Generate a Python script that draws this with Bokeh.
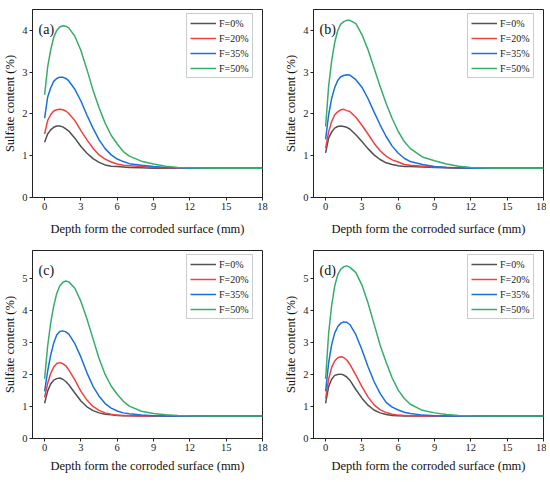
from bokeh.plotting import figure
from bokeh.layouts import column, row
from bokeh.models import Legend, LegendItem, Label, FixedTicker, Range1d
from bokeh.embed import file_html
from bokeh.resources import INLINE

# ---------------- data ----------------
depth = [0, 0.25, 0.5, 0.75, 1, 1.25, 1.5, 1.75, 2, 2.5, 3, 3.5, 4, 4.5, 5,
         5.5, 6, 6.5, 7, 8, 9, 10, 11, 12, 14, 16, 18]

series_labels = ["F=0%", "F=20%", "F=35%", "F=50%"]
x_ticks = [0, 3, 6, 9, 12, 15, 18]

a_f0 = [1.32, 1.52, 1.62, 1.68, 1.71, 1.71, 1.69, 1.64, 1.59, 1.42, 1.22, 1.06, 0.93, 0.84, 0.78,
        0.75, 0.74, 0.73, 0.72, 0.71, 0.70, 0.70, 0.70, 0.70, 0.70, 0.70, 0.70]
a_f20 = [1.52, 1.84, 1.98, 2.07, 2.10, 2.11, 2.10, 2.07, 2.01, 1.84, 1.60, 1.38, 1.18, 1.02, 0.92,
         0.85, 0.80, 0.77, 0.76, 0.74, 0.72, 0.71, 0.70, 0.70, 0.70, 0.70, 0.70]
a_f35 = [1.90, 2.40, 2.62, 2.78, 2.85, 2.88, 2.88, 2.85, 2.79, 2.59, 2.31, 1.97, 1.66, 1.38, 1.17,
         1.02, 0.92, 0.86, 0.81, 0.77, 0.74, 0.72, 0.71, 0.70, 0.70, 0.70, 0.70]
a_f50 = [2.46, 3.12, 3.53, 3.83, 4.00, 4.08, 4.11, 4.10, 4.06, 3.86, 3.52, 3.06, 2.57, 2.15, 1.78,
         1.49, 1.28, 1.10, 0.99, 0.87, 0.80, 0.75, 0.72, 0.71, 0.70, 0.70, 0.70]

b_f0 = [1.07, 1.42, 1.57, 1.66, 1.70, 1.71, 1.70, 1.68, 1.64, 1.50, 1.34, 1.17, 1.02, 0.91, 0.83,
        0.79, 0.76, 0.74, 0.74, 0.73, 0.72, 0.71, 0.70, 0.70, 0.70, 0.70, 0.70]
b_f20 = [1.18, 1.57, 1.82, 1.98, 2.05, 2.10, 2.11, 2.08, 2.06, 1.92, 1.73, 1.52, 1.30, 1.12, 0.99,
         0.90, 0.85, 0.79, 0.77, 0.75, 0.73, 0.72, 0.71, 0.70, 0.70, 0.70, 0.70]
b_f35 = [1.39, 1.98, 2.37, 2.63, 2.80, 2.89, 2.92, 2.94, 2.93, 2.82, 2.64, 2.37, 2.05, 1.74, 1.46,
         1.23, 1.06, 0.94, 0.86, 0.79, 0.74, 0.72, 0.71, 0.70, 0.70, 0.70, 0.70]
b_f50 = [1.70, 2.66, 3.27, 3.71, 3.99, 4.15, 4.21, 4.24, 4.24, 4.16, 3.90, 3.54, 3.10, 2.66, 2.25,
         1.89, 1.58, 1.34, 1.17, 0.97, 0.88, 0.80, 0.75, 0.72, 0.70, 0.70, 0.70]

c_f0 = [1.10, 1.48, 1.70, 1.82, 1.87, 1.89, 1.85, 1.78, 1.68, 1.42, 1.17, 0.99, 0.87, 0.80, 0.76,
        0.74, 0.72, 0.71, 0.71, 0.70, 0.70, 0.70, 0.70, 0.70, 0.70, 0.70, 0.70]
c_f20 = [1.28, 1.72, 2.03, 2.23, 2.34, 2.37, 2.34, 2.27, 2.14, 1.83, 1.47, 1.20, 1.00, 0.88, 0.80,
         0.76, 0.73, 0.72, 0.71, 0.70, 0.70, 0.70, 0.70, 0.70, 0.70, 0.70, 0.70]
c_f35 = [1.47, 2.10, 2.60, 2.98, 3.23, 3.34, 3.36, 3.33, 3.26, 2.96, 2.54, 2.05, 1.63, 1.32, 1.09,
         0.95, 0.86, 0.80, 0.77, 0.73, 0.71, 0.70, 0.70, 0.70, 0.70, 0.70, 0.70]
c_f50 = [1.86, 2.88, 3.60, 4.13, 4.53, 4.76, 4.87, 4.92, 4.89, 4.69, 4.28, 3.73, 3.11, 2.50, 2.00,
         1.64, 1.38, 1.16, 1.01, 0.85, 0.78, 0.74, 0.72, 0.71, 0.70, 0.70, 0.70]

d_f0 = [1.10, 1.62, 1.85, 1.97, 2.00, 2.01, 1.98, 1.92, 1.82, 1.53, 1.26, 1.04, 0.89, 0.80, 0.75,
        0.72, 0.71, 0.70, 0.70, 0.70, 0.70, 0.70, 0.70, 0.70, 0.70, 0.70, 0.70]
d_f20 = [1.25, 1.85, 2.22, 2.42, 2.52, 2.55, 2.53, 2.45, 2.32, 1.98, 1.62, 1.30, 1.05, 0.90, 0.81,
         0.76, 0.73, 0.72, 0.71, 0.70, 0.70, 0.70, 0.70, 0.70, 0.70, 0.70, 0.70]
d_f35 = [1.47, 2.36, 2.93, 3.29, 3.49, 3.60, 3.64, 3.63, 3.56, 3.24, 2.77, 2.25, 1.78, 1.41, 1.13,
         0.98, 0.89, 0.82, 0.78, 0.73, 0.71, 0.70, 0.70, 0.70, 0.70, 0.70, 0.70]
d_f50 = [1.86, 3.28, 4.16, 4.76, 5.11, 5.29, 5.36, 5.39, 5.35, 5.18, 4.79, 4.24, 3.58, 2.92, 2.38,
         1.89, 1.51, 1.25, 1.07, 0.88, 0.80, 0.75, 0.72, 0.71, 0.70, 0.70, 0.70]

panels = [
    ("(a)", [a_f0, a_f20, a_f35, a_f50], 4.5, [0, 1, 2, 3, 4]),
    ("(b)", [b_f0, b_f20, b_f35, b_f50], 4.5, [0, 1, 2, 3, 4]),
    ("(c)", [c_f0, c_f20, c_f35, c_f50], 5.87, [0, 1, 2, 3, 4, 5]),
    ("(d)", [d_f0, d_f20, d_f35, d_f50], 5.87, [0, 1, 2, 3, 4, 5]),
]

# ---------------- styling ----------------
COLORS = ["#515151", "#F14040", "#1A6FDF", "#37AD6B"]
FONT = "Liberation Serif"


def make_panel(tag, ys, ymax, yticks, bl, br, bt, bb, label_standoff):
    p = figure(frame_width=230, frame_height=188, title=None,
               x_range=Range1d(-1, 18), y_range=Range1d(0, ymax),
               output_backend="svg", toolbar_location=None,
               min_border_left=bl, min_border_right=br,
               min_border_top=bt, min_border_bottom=bb)
    p.background_fill_color = "white"
    p.border_fill_color = "white"
    p.outline_line_color = "#222222"
    p.outline_line_width = 1
    p.grid.visible = False

    for ax in (p.xaxis[0], p.yaxis[0]):
        ax.axis_line_color = "#222222"
        ax.major_tick_line_color = "#222222"
        ax.major_tick_in = 0
        ax.major_tick_out = 3
        ax.minor_tick_line_color = None
        ax.major_label_text_font = FONT
        ax.major_label_text_font_size = "10.5px"
        ax.major_label_text_color = "#222222"
        ax.axis_label_text_font = FONT
        ax.axis_label_text_font_size = "12.5px"
        ax.axis_label_text_font_style = "normal"
        ax.axis_label_text_color = "#111111"
        ax.major_label_standoff = 2

    p.xaxis.ticker = FixedTicker(ticks=x_ticks)
    p.yaxis.ticker = FixedTicker(ticks=yticks)
    p.xaxis.axis_label = "Depth form the corroded surface (mm)"
    p.yaxis.axis_label = "Sulfate content (%)"
    p.xaxis.axis_label_standoff = label_standoff
    p.yaxis.axis_label_standoff = 2

    items = []
    for lab, y, c in zip(series_labels, ys, COLORS):
        r = p.line(depth, y, line_color=c, line_width=1.5)
        items.append(LegendItem(label=lab, renderers=[r]))

    leg = Legend(items=items, location=(154, 119))
    leg.label_text_font = FONT
    leg.label_text_font_size = "10px"
    leg.label_text_color = "#222222"
    leg.glyph_width = 26
    leg.glyph_height = 12
    leg.label_height = 12
    leg.label_standoff = 3
    leg.spacing = 3
    leg.padding = 3
    leg.margin = 0
    leg.border_line_color = "#999999"
    leg.border_line_width = 1
    leg.background_fill_color = "white"
    leg.background_fill_alpha = 1.0
    p.add_layout(leg, "center")

    p.add_layout(Label(x=6, y=176, x_units="screen", y_units="screen",
                       text=tag, text_font=FONT, text_font_size="14px",
                       text_baseline="top", text_align="left",
                       text_color="#111111"))
    return p


pa = make_panel(*panels[0], bl=26, br=19, bt=9, bb=52, label_standoff=9)
pb = make_panel(*panels[1], bl=26, br=3, bt=9, bb=52, label_standoff=9)
pc = make_panel(*panels[2], bl=26, br=19, bt=1, bb=36, label_standoff=5)
pd = make_panel(*panels[3], bl=26, br=3, bt=1, bb=36, label_standoff=5)

layout = column(row(pa, pb), row(pc, pd))

open("out.html", "w").write(file_html(layout, INLINE))
